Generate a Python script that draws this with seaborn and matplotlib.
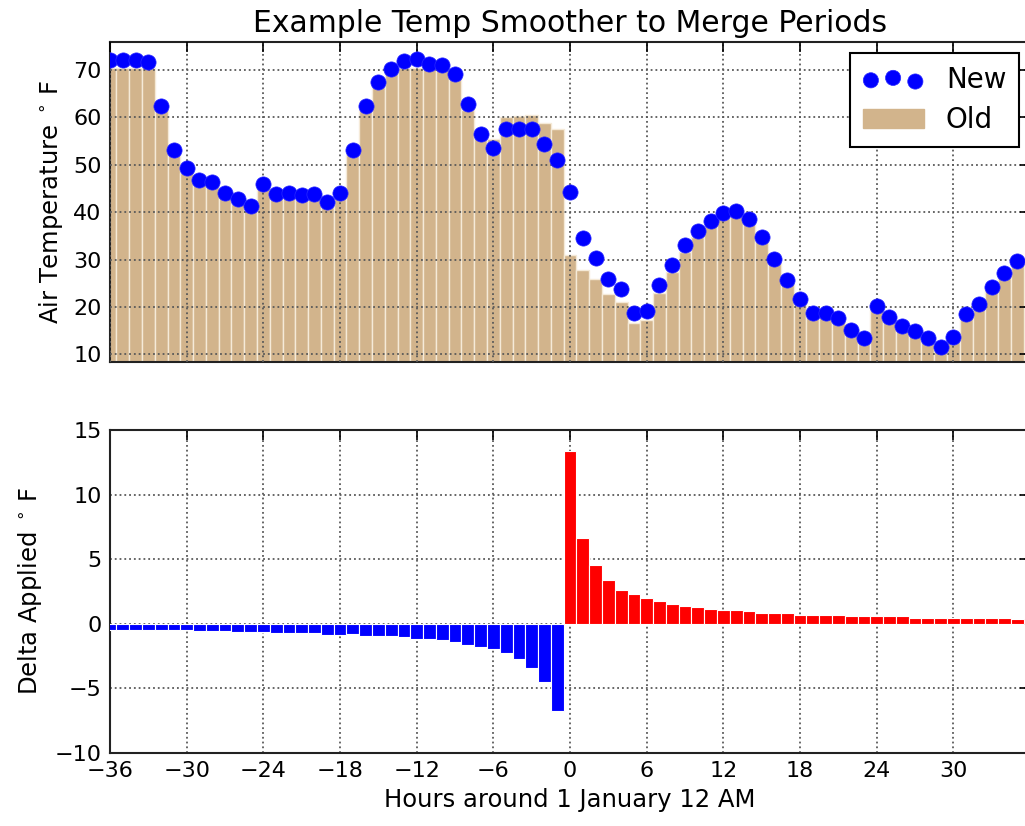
import matplotlib
matplotlib.use("Agg")
import matplotlib.pyplot as plt
from matplotlib.patches import Patch
import seaborn as sns
import pandas as pd

# ---------------- data ----------------
hours = list(range(-36, 36))

new_temp = [72.0, 72.0, 72.0, 71.6, 62.5, 53.1, 49.4, 46.8, 46.4, 44.0, 42.7, 41.4,
            45.9, 43.8, 44.0, 43.6, 43.8, 42.2, 44.0,
            53.1, 62.5, 67.5, 70.3, 71.9, 72.3, 71.3, 71.1, 69.1, 62.8, 56.5, 53.5,
            57.5, 57.5, 57.5, 54.4, 51.1,
            44.3, 34.6, 30.3, 25.9, 23.8, 18.8, 19.2, 24.6, 28.8, 33.1, 36.0, 38.2,
            39.8, 40.3, 38.6, 34.8, 30.1, 25.7, 21.6,
            18.8, 18.8, 17.6, 15.1, 13.4, 20.2, 17.9, 16.0, 14.9, 13.5, 11.6, 13.7,
            18.5, 20.6, 24.2, 27.1, 29.6]

old_temp = [70.4, 70.4, 70.4, 70.4, 61.6, 52.0, 48.3, 45.8, 45.4, 43.0, 41.7, 40.5,
            44.8, 42.8, 43.0, 42.6, 42.8, 41.2, 43.0,
            52.0, 61.5, 66.5, 69.3, 70.4, 70.5, 70.4, 70.2, 68.2, 61.5, 56.8, 55.4,
            60.0, 60.3, 60.6, 58.8, 57.6,
            31.0, 27.9, 25.9, 22.7, 21.1, 16.6, 17.3, 22.9, 27.3, 31.7, 34.7, 37.0,
            38.7, 39.2, 37.6, 34.0, 29.3, 24.9, 20.9,
            18.1, 18.1, 16.9, 14.5, 12.8, 19.4, 17.3, 15.4, 14.4, 13.0, 11.1, 13.2,
            18.0, 20.1, 23.7, 26.6, 29.2]

neg_hours = list(range(-36, 0))
neg_delta = [-0.45, -0.45, -0.46, -0.46, -0.46, -0.47, -0.47,
             -0.58, -0.58, -0.59, -0.60, -0.60, -0.61,
             -0.72, -0.72, -0.73, -0.73,
             -0.84, -0.85, -0.78,
             -0.93, -0.93, -0.94,
             -1.03, -1.15, -1.17, -1.24, -1.37, -1.63, -1.76, -1.96,
             -2.27, -2.74, -3.44, -4.47, -6.72]

pos_hours = list(range(0, 36))
pos_delta = [13.36, 6.64, 4.52, 3.36, 2.64, 2.33, 1.99, 1.73, 1.52, 1.40, 1.27, 1.16,
             1.06, 1.06, 0.96, 0.83, 0.83, 0.83, 0.70, 0.70, 0.70, 0.70, 0.60, 0.60,
             0.60, 0.60, 0.57, 0.47, 0.47, 0.47, 0.47, 0.47, 0.47, 0.47, 0.47, 0.36]

x_ticks = [-36, -30, -24, -18, -12, -6, 0, 6, 12, 18, 24, 30]
top_yticks = [10, 20, 30, 40, 50, 60, 70]
bot_yticks = [-10, -5, 0, 5, 10, 15]

# ---------------- style ----------------
sns.set_theme(style="white")
plt.rcParams["font.family"] = ["DejaVu Sans"]
plt.rcParams["mathtext.fontset"] = "dejavusans"
plt.rcParams["text.color"] = "black"
plt.rcParams["axes.labelcolor"] = "black"
plt.rcParams["xtick.color"] = "black"
plt.rcParams["ytick.color"] = "black"

temp_df = pd.DataFrame({"hour": hours, "new": new_temp, "old": old_temp})
neg_df = pd.DataFrame({"hour": neg_hours, "delta": neg_delta})
pos_df = pd.DataFrame({"hour": pos_hours, "delta": pos_delta})

fig = plt.figure(figsize=(10.25, 8.26), dpi=100)
ax1 = fig.add_axes([110 / 1025, 1 - 362 / 826, 920 / 1025, 320 / 826])
ax2 = fig.add_axes([110 / 1025, 1 - 753 / 826, 920 / 1025, 323 / 826])

TICK_FS = 16
LABEL_FS = 17.5

# ---- top panel ----
sns.barplot(data=temp_df, x="hour", y="old", native_scale=True, color="tan",
            saturation=1, width=1, edgecolor="#f5ead8", linewidth=1.0,
            errorbar=None, ax=ax1, zorder=1)
sns.scatterplot(data=temp_df, x="hour", y="new", color="#0000ff", s=120,
                edgecolor="#2a2aff", linewidth=0.5, ax=ax1, zorder=4, legend=False)
ax1.set_xlim(-36, 36)
ax1.set_ylim(8.4, 75.9)
ax1.set_xticks(x_ticks)
ax1.set_xticklabels([])
ax1.set_yticks(top_yticks)
ax1.set_xlabel("")
ax1.set_ylabel(r"Air Temperature $^\circ\,$F", fontsize=LABEL_FS, labelpad=6)
ax1.set_title("Example Temp Smoother to Merge Periods", fontsize=21.5, pad=7,
              color="black")
ax1.set_axisbelow(False)

handles = [ax1.collections[-1], Patch(facecolor="tan", edgecolor="tan")]
leg = ax1.legend(handles, ["New", "Old"], loc="upper right", fontsize=20,
                 scatterpoints=3, fancybox=False, framealpha=1,
                 edgecolor="black", handlelength=2.2, borderaxespad=0.4,
                 borderpad=0.45, labelspacing=0.45, handletextpad=0.8)
leg.get_frame().set_linewidth(1.5)

# ---- bottom panel ----
sns.barplot(data=neg_df, x="hour", y="delta", native_scale=True, color="#0000ff",
            saturation=1, width=1, edgecolor="white", linewidth=0.8,
            errorbar=None, ax=ax2, zorder=3)
sns.barplot(data=pos_df, x="hour", y="delta", native_scale=True, color="#ff0000",
            saturation=1, width=1, edgecolor="white", linewidth=0.8,
            errorbar=None, ax=ax2, zorder=3)
ax2.set_xlim(-36, 36)
ax2.set_ylim(-10, 15)
ax2.set_xticks(x_ticks)
ax2.set_xticklabels([f"\u2212{abs(t)}" if t < 0 else str(t) for t in x_ticks])
ax2.set_yticks(bot_yticks)
ax2.set_yticklabels([f"\u2212{abs(t)}" if t < 0 else str(t) for t in bot_yticks])
ax2.set_xlabel("Hours around 1 January 12 AM", fontsize=LABEL_FS, labelpad=5)
ax2.set_ylabel(r"Delta Applied $^\circ\,$F", fontsize=LABEL_FS, labelpad=8)
ax2.set_axisbelow(True)

for ax in (ax1, ax2):
    ax.grid(True, which="major", linestyle=":", color="0.35", linewidth=1.3)
    ax.tick_params(direction="in", length=7, width=1.2, top=True, right=True,
                   labelsize=TICK_FS, colors="black", pad=6)
    for sp in ax.spines.values():
        sp.set_visible(True)
        sp.set_color("#222222")
        sp.set_linewidth(1.5)

fig.savefig("out.png", dpi=100)
